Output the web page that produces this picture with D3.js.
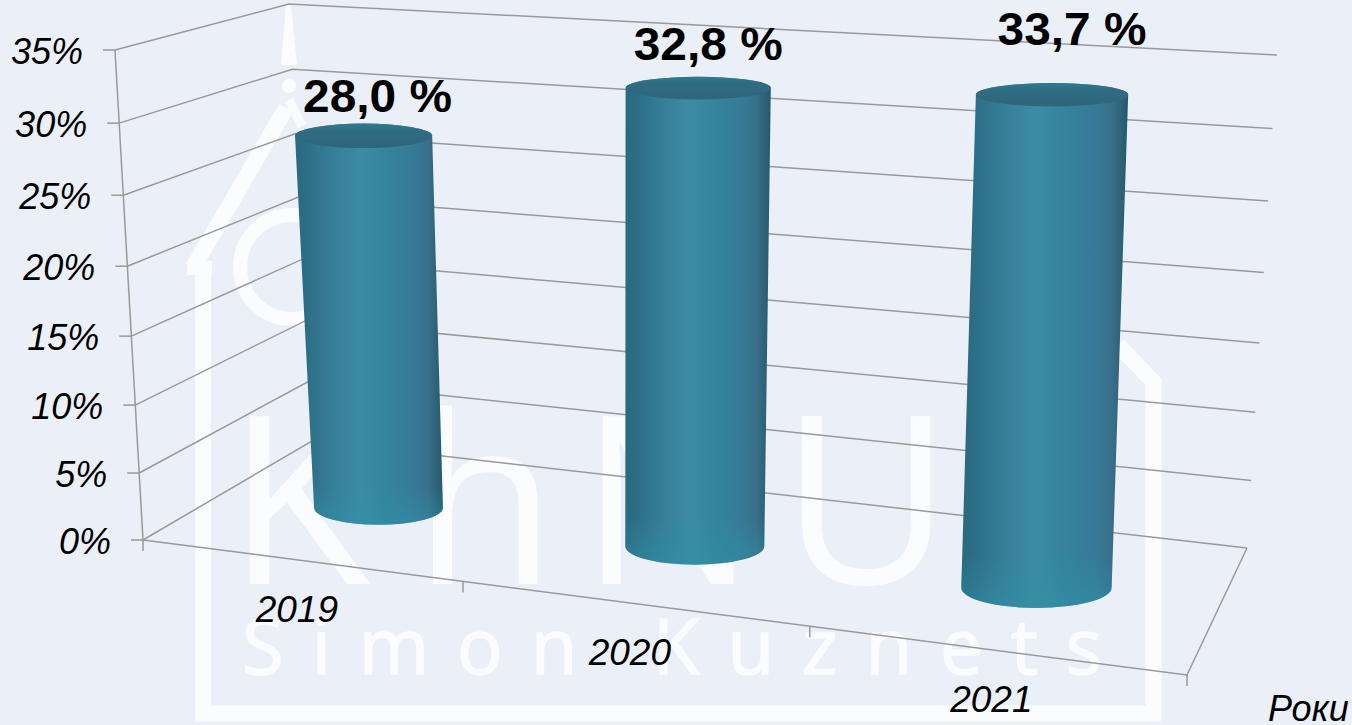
<!DOCTYPE html>
<html><head><meta charset="utf-8">
<script src="https://cdn.jsdelivr.net/npm/d3@7"></script>
<style>html,body{margin:0;padding:0;background:#ebf0f8;overflow:hidden}svg{display:block}</style>
</head><body>
<svg id="c" width="1352" height="725"></svg>
<script>
// DATA
const categories = ["2019","2020","2021"];
const seriesValues = [28.0,32.8,33.7];
const dataLabels = ["28,0 %","32,8 %","33,7 %"];
const yTicks = [0,5,10,15,20,25,30,35];
const xAxisTitle = "Роки";

// LAYOUT: corners of the 3D box [front-left, front-right, back-right, back-left]
const floorQuad = [[143,540],[1187,675],[1247,548],[312,441]];
const ceilQuad  = [[115,50],[1200,110],[1277,55],[289,4]];
const labelOffsets = [[14,-24],[10,-28],[20,-50]];

function homography(q){
  const [[x0,y0],[x1,y1],[x2,y2],[x3,y3]] = q;
  const dx1=x1-x2,dx2=x3-x2,sx=x0-x1+x2-x3,dy1=y1-y2,dy2=y3-y2,sy=y0-y1+y2-y3;
  const det=dx1*dy2-dx2*dy1, g=(sx*dy2-dx2*sy)/det, h=(dx1*sy-sx*dy1)/det;
  const a=x1-x0+g*x1,b=x3-x0+h*x3,c=x0,d=y1-y0+g*y1,e=y3-y0+h*y3,f=y0;
  return (u,v)=>{const w=g*u+h*v+1;return [(a*u+b*v+c)/w,(d*u+e*v+f)/w];};
}
const floorH=homography(floorQuad), ceilH=homography(ceilQuad);
const xScale=d3.scaleBand().domain(categories).range([0,1]);
const yScale=d3.scaleLinear().domain([0,35]).range([0,1]);
const persp=1.0527;
function project(u,v,val){
  const w=yScale(val), t=w/(w+persp*(1-w));
  const a=floorH(u,v), b=ceilH(u,v);
  return [a[0]+(b[0]-a[0])*t, a[1]+(b[1]-a[1])*t];
}

const svg=d3.select("#c");
svg.append("rect").attr("width",1352).attr("height",725).attr("fill","#ebf0f8");
const defs=svg.append("defs");
const bodyG=defs.append("linearGradient").attr("id","body");
[[0,"#296a7f"],[.06,"#2c6d83"],[.28,"#37809a"],[.45,"#3c8ba5"],[.62,"#35839d"],[.8,"#367a97"],[.9,"#3a6f8a"],[1,"#24596b"]]
 .forEach(s=>bodyG.append("stop").attr("offset",s[0]).attr("stop-color",s[1]));
const fadeG=defs.append("linearGradient").attr("id","foot").attr("x1",0).attr("x2",0).attr("y1",0).attr("y2",1);
[[0,"#2f93aa",0],[.9,"#2f93aa",0],[1,"#2f93aa",.5]]
 .forEach(s=>fadeG.append("stop").attr("offset",s[0]).attr("stop-color",s[1]).attr("stop-opacity",s[2]));
const headG=defs.append("linearGradient").attr("id","head").attr("x1",0).attr("x2",0).attr("y1",0).attr("y2",1);
[[0,"#2f7a90"],[.3,"#2f6c83"],[1,"#2e667c"]]
 .forEach(s=>headG.append("stop").attr("offset",s[0]).attr("stop-color",s[1]));

// Watermark
const wmColor="#fbfcfe";
const wm=svg.append("g").attr("fill","none").attr("stroke",wmColor).attr("stroke-width",16);
wm.append("path").attr("d","M203 272V713.5H1153.5V382L1118 345");
wm.append("path").attr("d","M193 268L286 108").attr("stroke-width",16);
wm.append("path").attr("d","M289 100L302 126").attr("stroke-width",9);
wm.append("path").attr("d","M187 268H212").attr("stroke-width",14);
wm.append("circle").attr("cx",292).attr("cy",267).attr("r",52).attr("stroke-width",14);
wm.append("circle").attr("cx",289).attr("cy",86).attr("r",7).attr("fill",wmColor).attr("stroke","none");
wm.append("path").attr("d","M286 5H291L297 65H281Z").attr("fill",wmColor).attr("stroke","none");
wm.append("text").text("KhNU").attr("x","227 413 580 781").attr("y",584).attr("stroke","none").attr("fill",wmColor)
  .attr("font-family","'Open Sans'").attr("font-size",234);
wm.append("text").text("Simon Kuznets").attr("x",242).attr("y",674).attr("stroke",wmColor).attr("stroke-width",1.5).attr("fill",wmColor)
  .attr("font-family","'Open Sans'").attr("font-size",76).attr("textLength",860).attr("lengthAdjust","spacing");

// Grid and axes
const gridColor="#999999";
const grid=svg.append("g").attr("fill","none").attr("stroke",gridColor).attr("stroke-width",1.5);
const lineGen=d3.line();
yTicks.forEach(t=>{
  grid.append("path").attr("d",lineGen([project(0,0,t),project(0,1,t),project(1,1,t)]));
  const p=project(0,0,t);
  grid.append("path").attr("d",lineGen([p,[p[0]-12,p[1]]]));
});
grid.append("path").attr("d",lineGen([project(0,0,0),project(0,0,35)]));
grid.append("path").attr("d",lineGen([project(0,0,0),project(1,0,0),project(1,1,0)]));
const edgeTicks=[0,1/3,2/3,1];
edgeTicks.forEach(u=>{const p=project(u,0,0);grid.append("path").attr("d",lineGen([p,[p[0],p[1]+11]]));});

// Cylinders
const du=0.07, dv=0.165, topFlat=1.25, vBase=0.48, vTop=0.44;
const depthAt=val=>vBase+(vTop-vBase)*yScale(val);
const bars=svg.append("g");
categories.forEach((c,i)=>{
  const u=xScale(c)+xScale.bandwidth()/2, val=seriesValues[i];
  const vb=depthAt(0), vt=depthAt(val);
  const b=project(u,vb,0), t=project(u,vt,val);
  const brx=Math.hypot(...[0,1].map(k=>project(u+du,vb,0)[k]-project(u-du,vb,0)[k]))/2;
  const trx=Math.hypot(...[0,1].map(k=>project(u+du,vt,val)[k]-project(u-du,vt,val)[k]))/2;
  const bry=Math.abs(project(u,vb+dv,0)[1]-project(u,vb-dv,0)[1])/2;
  const try_=Math.abs(project(u,vt+dv,val)[1]-project(u,vt-dv,val)[1])/2*topFlat;
  const d=`M${t[0]-trx},${t[1]}L${b[0]-brx},${b[1]}A${brx},${bry} 0 0 0 ${b[0]+brx},${b[1]}L${t[0]+trx},${t[1]}A${trx},${try_} 0 0 0 ${t[0]-trx},${t[1]}Z`;
  bars.append("path").attr("d",d).attr("fill","url(#body)");
  bars.append("path").attr("d",d).attr("fill","url(#foot)");
  bars.append("ellipse").attr("cx",t[0]).attr("cy",t[1]).attr("rx",trx).attr("ry",try_).attr("fill","url(#head)");
  svg.append("text").text(dataLabels[i])
    .attr("x",t[0]+labelOffsets[i][0]).attr("y",t[1]+labelOffsets[i][1]).attr("text-anchor","middle")
    .attr("font-family","'Liberation Sans'").attr("font-weight",700).attr("font-size",46).attr("fill","#000")
    .attr("textLength",149).attr("lengthAdjust","spacingAndGlyphs");
});

// Text
const italic=sel=>sel.attr("font-family","'Liberation Sans'").attr("font-style","italic").attr("fill","#000");
yTicks.forEach(t=>{
  const p=project(0,0,t);
  italic(svg.append("text")).text(t+"%").attr("x",p[0]-32).attr("y",p[1]+14)
    .attr("text-anchor","end").attr("font-size",36);
});
categories.forEach(c=>{
  const p=project(xScale(c)+xScale.bandwidth()/2,0,0);
  italic(svg.append("text")).text(c).attr("x",p[0]-3).attr("y",p[1]+62)
    .attr("text-anchor","middle").attr("font-size",37);
});
italic(svg.append("text")).text(xAxisTitle).attr("x",1268).attr("y",721).attr("font-size",36);
</script>
</body></html>
